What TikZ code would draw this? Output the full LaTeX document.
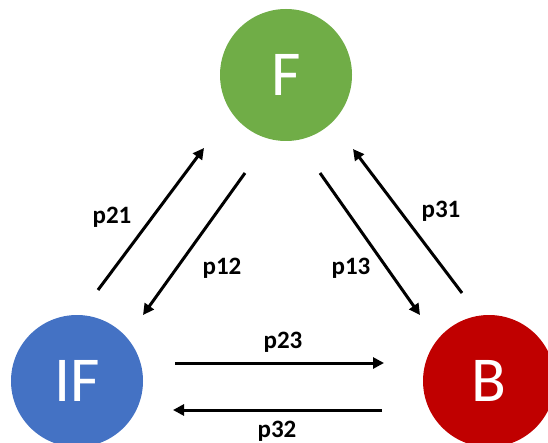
\documentclass[tikz,border=0pt]{standalone}
\usepackage{fontspec}
\setmainfont{Carlito}
\usetikzlibrary{arrows.meta}
\definecolor{fgreen}{HTML}{70AD47}
\definecolor{ifblue}{HTML}{4472C4}
\definecolor{bred}{HTML}{C00000}
\begin{document}
\begin{tikzpicture}[x=1pt,y=-1pt,
  state/.style={circle,minimum size=132pt,inner sep=0pt,text=white,font=\fontsize{64}{64}\selectfont},
  flow/.style={line width=3pt,-{Triangle[length=11pt,width=11pt]}},
  lab/.style={font=\fontsize{25}{25}\selectfont\bfseries,inner sep=0pt}]
\clip (0,0) rectangle (548,443);
\useasboundingbox (0,0) rectangle (548,443);
\fill[white] (0,0) rectangle (548,443);
\node[state,fill=fgreen] (F) at (286,75) {F};
\node[state,fill=ifblue] (IF) at (77,381) {IF};
\node[state,fill=bred] (B) at (489,381) {B};
\coordinate (a21s) at (98,290);  \coordinate (a21e) at (204,148);
\coordinate (a12s) at (245,173); \coordinate (a12e) at (143,315);
\coordinate (a13s) at (320,173); \coordinate (a13e) at (420,315);
\coordinate (a31s) at (462,293); \coordinate (a31e) at (353,149);
\coordinate (a23s) at (175,363); \coordinate (a23e) at (384,363);
\coordinate (a32s) at (382,410); \coordinate (a32e) at (173,410);
\draw[flow] (a21s) -- (a21e);
\draw[flow] (a12s) -- (a12e);
\draw[flow] (a13s) -- (a13e);
\draw[flow] (a31s) -- (a31e);
\draw[flow] (a23s) -- (a23e);
\draw[flow] (a32s) -- (a32e);
\node[lab] (l21) at (112,217) {p21};
\node[lab] (l12) at (222,268) {p12};
\node[lab] (l13) at (351,268) {p13};
\node[lab] (l31) at (441,211) {p31};
\node[lab] (l23) at (283,342) {p23};
\node[lab] (l32) at (277,431) {p32};
\end{tikzpicture}
\end{document}
